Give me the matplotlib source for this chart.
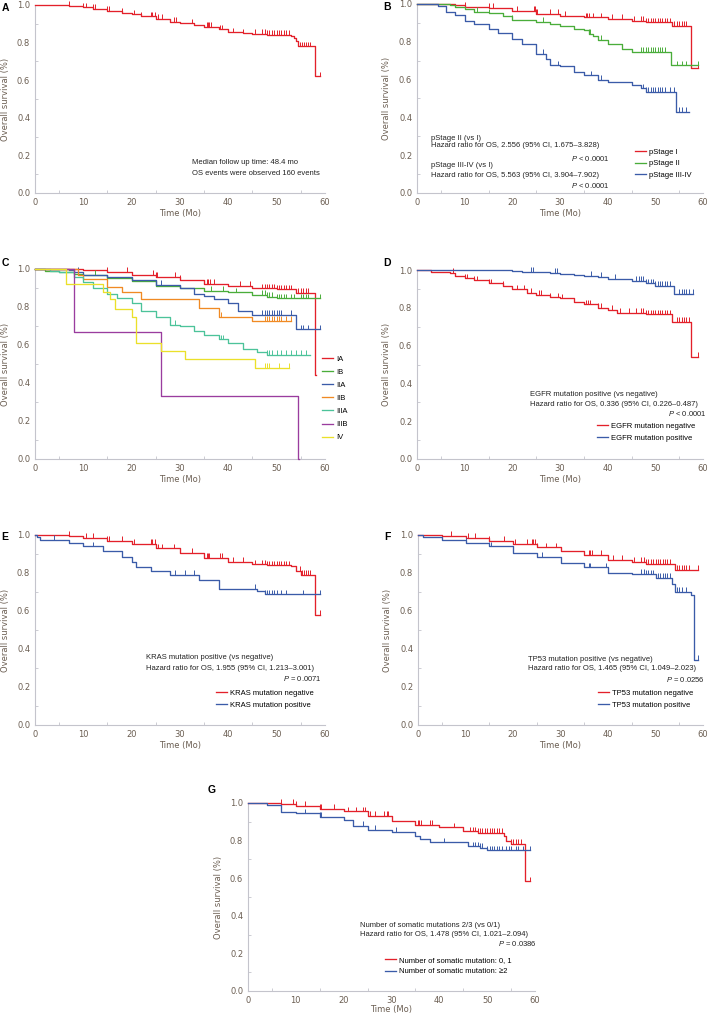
import numpy as np
import matplotlib
matplotlib.use("Agg")
import matplotlib.pyplot as plt

plt.rcParams["mathtext.fontset"] = "custom"
plt.rcParams["mathtext.rm"] = "Liberation Sans"
plt.rcParams["mathtext.it"] = "Liberation Sans:italic"

W, H = 709, 1015

RED = "#e3202a"
GREEN = "#4aad3a"
BLUE = "#3a5ba8"
ORANGE = "#f08a24"
TEAL = "#4cc39a"
PURPLE = "#9a3c9e"
YELLOW = "#ebe02a"

# ---- panel A : all patients
A_t = [0, 7, 10, 12, 15, 18, 20, 22, 25, 28, 30, 33, 35, 38, 40, 43, 45, 48, 53, 53.5, 54, 54.5, 58]
A_s = [1.0, 0.995, 0.988, 0.98, 0.97, 0.96, 0.95, 0.94, 0.926, 0.912, 0.903, 0.892, 0.885, 0.87,
       0.855, 0.85, 0.847, 0.84, 0.836, 0.825, 0.81, 0.78, 0.62]
A_end = 59
A_cens = [7, 10, 10.5, 12, 12.4, 15, 15.3, 18, 20.5, 22, 24, 24.3, 24.8, 25.5, 26.2, 28.8, 29.2,
          32.5, 35.5, 35.8, 36.1, 36.4, 38.3, 38.6, 41, 43, 45.5, 47, 47.5, 48, 48.5, 49, 49.5,
          50, 50.5, 51, 51.5, 52, 52.5, 54.8, 55.2, 55.6, 56, 56.5, 57, 59]

# ---- panel B : pathological stage
B1_t = [0, 8, 10, 15, 20, 25, 30, 35, 40, 45, 48, 53.5, 57.5]
B1_s = [1.0, 0.995, 0.986, 0.978, 0.965, 0.947, 0.939, 0.93, 0.92, 0.912, 0.903, 0.886, 0.66]
B1_end = 59
B1_cens = [10, 15, 16, 21, 24.5, 24.7, 25, 25.2, 28, 29.5, 31, 35.5, 35.7, 36, 37, 38.5, 41, 43,
           45.5, 47, 47.5, 48, 48.5, 49, 49.5, 50, 50.5, 51, 51.5, 52, 52.5, 53, 54, 54.5, 55,
           55.5, 56, 56.5, 59]
B2_t = [0, 7, 8, 10, 12, 15, 18, 20, 25, 28, 30, 33, 35, 36, 37, 38, 40, 43, 45, 53.2]
B2_s = [1.0, 0.995, 0.985, 0.975, 0.96, 0.95, 0.935, 0.916, 0.905, 0.895, 0.881, 0.87, 0.86,
        0.842, 0.83, 0.812, 0.789, 0.763, 0.745, 0.675]
B2_end = 59
B2_cens = [12.5, 15, 20, 26.5, 36, 36.3, 38.5, 47, 47.5, 48, 48.5, 49, 49.5, 50, 50.5, 51, 51.5,
           52, 54.5, 55.5, 56.5, 59]
B3_t = [0, 4.5, 6, 8, 10, 12, 15, 17, 20, 22, 25, 27, 28, 30, 33, 35, 38, 40, 45, 47, 48, 54.3]
B3_s = [1.0, 0.99, 0.96, 0.94, 0.912, 0.895, 0.868, 0.845, 0.816, 0.79, 0.737, 0.71, 0.675, 0.67,
        0.64, 0.623, 0.6, 0.588, 0.57, 0.553, 0.535, 0.43]
B3_end = 57
B3_cens = [15, 26.5, 29.5, 36.5, 38.5, 47.5, 48, 48.5, 49, 49.5, 50, 50.5, 51, 51.5, 52, 53, 54,
           55, 55.5, 56.5]

# ---- panel C : detailed stage
C_labels = ["IA", "IB", "IIA", "IIB", "IIIA", "IIIB", "IV"]
IA_t = [0, 10, 15, 20, 25, 30, 35, 40, 45, 50, 54, 58]
IA_s = [1.0, 0.995, 0.986, 0.968, 0.96, 0.942, 0.92, 0.91, 0.898, 0.893, 0.875, 0.44]
IA_cens = [15, 19, 24.5, 25, 25.3, 29, 30, 35.5, 35.8, 36.2, 37, 42.5, 44.5, 47, 47.5, 48, 48.5,
           49, 49.5, 50, 50.5, 51, 51.5, 52, 52.5, 53, 54.5, 55, 55.5, 56, 56.5]
IB_t = [0, 2, 5, 8, 10, 15, 20, 25, 30, 35, 40, 45, 48, 50]
IB_s = [1.0, 0.99, 0.985, 0.975, 0.97, 0.955, 0.935, 0.91, 0.9, 0.885, 0.877, 0.865, 0.855, 0.846]
IB_cens = [8, 12.5, 36.5, 39, 41.5, 47, 47.5, 48, 48.5, 49, 50, 50.5, 51, 51.5, 52, 53, 53.5, 55,
           55.5, 56, 56.5, 59]
IIA_t = [0, 7, 8, 10, 15, 20, 25, 30, 33, 35, 37, 40, 42, 45, 54]
IIA_s = [1.0, 0.995, 0.985, 0.97, 0.96, 0.94, 0.915, 0.9, 0.87, 0.86, 0.84, 0.819, 0.78, 0.758, 0.682]
IIA_cens = [9, 26, 47, 47.5, 48, 48.5, 49, 49.5, 50, 50.5, 51, 53, 55, 55.5, 56.5, 59]
IIB_t = [0, 9, 10, 15, 18, 22, 34, 38, 45]
IIB_s = [1.0, 0.97, 0.95, 0.907, 0.88, 0.84, 0.793, 0.749, 0.726]
IIB_cens = [38.5, 47.5, 48, 48.5, 49, 49.5, 50, 50.5, 51, 52, 53]
IIIA_t = [0, 3, 5, 8, 10, 12, 15, 17, 20, 22, 25, 28, 30, 33, 35, 38, 40, 43, 46, 48]
IIIA_s = [1.0, 0.99, 0.985, 0.96, 0.93, 0.9, 0.87, 0.845, 0.82, 0.78, 0.749, 0.705, 0.70, 0.675,
          0.653, 0.63, 0.612, 0.58, 0.565, 0.547]
IIIA_cens = [29, 38.5, 39, 48, 48.5, 49, 50, 51, 52, 53, 54, 55, 56]
IIIB_t = [0, 8, 26, 54.5]
IIIB_s = [1.0, 0.667, 0.333, 0.0]
IIIB_cens = []
IV_t = [0, 6.5, 14, 15.5, 16.5, 20, 21, 26, 31, 45.5]
IV_s = [1.0, 0.92, 0.88, 0.84, 0.787, 0.746, 0.612, 0.57, 0.526, 0.48]
IV_cens = [47.5, 48, 48.5, 50.5, 52.5]
C_ends = [58.1, 59, 59, 53, 57, 54.6, 52.5]

# ---- panel D : EGFR
Dneg_t = [0, 3, 7, 8, 10, 12, 15, 18, 20, 23, 25, 28, 30, 33, 35, 38, 40, 42, 48, 53.5, 57.5]
Dneg_s = [1.0, 0.99, 0.985, 0.97, 0.956, 0.945, 0.93, 0.915, 0.898, 0.88, 0.868, 0.855, 0.85,
          0.83, 0.818, 0.8, 0.788, 0.775, 0.766, 0.727, 0.541]
Dneg_cens = [7.5, 10, 10.5, 12, 12.5, 15, 15.5, 18, 21, 22.5, 24, 25.5, 26, 28, 29.5, 30.5, 35.5,
             35.8, 36.2, 38, 38.5, 41, 42.5, 44.5, 46, 47, 47.5, 48, 48.5, 49, 49.5, 50, 50.5,
             51, 51.5, 52, 52.5, 53, 54.5, 55, 55.5, 56, 56.5, 57, 59]
Dpos_t = [0, 15, 20, 22, 28, 30, 33, 35, 38, 40, 43, 45, 48, 50, 54]
Dpos_s = [1.0, 0.998, 0.995, 0.99, 0.985, 0.98, 0.975, 0.97, 0.962, 0.955, 0.95, 0.944, 0.93,
          0.915, 0.875]
Dpos_cens = [24, 24.3, 29, 29.3, 36.5, 38.7, 41.5, 46, 46.5, 47, 47.5, 48, 48.5, 49, 49.5, 50,
             50.5, 51, 51.5, 52, 52.5, 53, 55, 55.5, 56, 56.5, 57, 58]

# ---- panel E : KRAS
Eneg_t = [0, 7, 10, 15, 20, 25, 30, 35, 40, 45, 48, 53, 54, 55, 58]
Eneg_s = [1.0, 0.995, 0.985, 0.97, 0.955, 0.93, 0.905, 0.88, 0.86, 0.845, 0.84, 0.835, 0.81,
          0.79, 0.58]
Eneg_cens = [7, 10.5, 12, 15, 15.3, 18, 20.5, 24, 24.3, 24.8, 25.5, 26.2, 28.8, 32.5, 35.5, 35.8,
             36.1, 38.3, 38.6, 41, 43, 45.5, 47, 47.5, 48, 48.5, 49, 49.5, 50, 50.5, 51, 51.5,
             52, 52.5, 54.8, 55.2, 55.6, 56, 56.5, 57, 59]
Epos_t = [0, 0.5, 1, 7, 10, 14, 18, 20, 21, 24, 28, 34, 38, 46, 47.5]
Epos_s = [1.0, 0.99, 0.975, 0.96, 0.94, 0.915, 0.885, 0.86, 0.833, 0.81, 0.79, 0.763, 0.716,
          0.705, 0.687]
Epos_cens = [4, 12, 29, 31, 33, 45.5, 47.5, 48, 48.5, 49, 49.5, 50, 51, 52, 55.5, 59]

# ---- panel F : TP53
Fneg_t = [0, 5, 10, 15, 20, 25, 30, 35, 40, 45, 48, 54]
Fneg_s = [1.0, 0.995, 0.985, 0.97, 0.955, 0.935, 0.915, 0.895, 0.87, 0.86, 0.85, 0.816]
Fneg_cens = [7, 10.5, 12, 15, 18, 20.5, 23, 24, 24.3, 24.6, 25, 27, 29, 36, 36.3, 36.6, 38.5,
             41, 43, 45.5, 47, 47.5, 48, 48.5, 49, 49.5, 50, 50.5, 51, 51.5, 52, 52.5, 53,
             54.5, 55, 55.5, 56, 56.5, 57, 59]
Fpos_t = [0, 1, 5, 10, 15, 20, 25, 30, 35, 40, 45, 48, 50, 53.5, 54, 57.5, 58]
Fpos_s = [1.0, 0.99, 0.975, 0.96, 0.94, 0.907, 0.885, 0.855, 0.83, 0.8, 0.795, 0.793, 0.775,
          0.74, 0.702, 0.685, 0.342]
Fpos_cens = [10, 15, 15.3, 26, 36, 36.3, 39.5, 47, 47.5, 48, 48.5, 49, 49.5, 50.5, 51, 51.5, 52,
             52.5, 53, 54.5, 55, 55.5, 56.5, 59]

# ---- panel G : number of somatic mutations
Glow_t = [0, 7, 10, 15, 20, 25, 30, 35, 40, 45, 48, 53.5, 54, 55, 58]
Glow_s = [1.0, 0.995, 0.985, 0.97, 0.955, 0.93, 0.904, 0.885, 0.87, 0.85, 0.84, 0.825, 0.8,
          0.782, 0.583]
Glow_cens = [7, 9.5, 10, 12, 15, 15.3, 18, 21, 22.5, 24, 24.5, 25, 25.5, 26.5, 28.5, 29, 29.3,
             35.5, 35.8, 36.2, 38, 38.4, 43, 46.5, 47, 47.5, 48, 48.5, 49, 49.5, 50, 50.5, 51,
             51.5, 52, 52.5, 53, 55, 55.5, 56, 56.5, 57, 59]
Ghigh_t = [0, 4, 7, 10, 15, 20, 22, 25, 30, 35, 36, 38, 46, 48.5, 50]
Ghigh_s = [1.0, 0.99, 0.953, 0.945, 0.925, 0.91, 0.88, 0.857, 0.845, 0.825, 0.81, 0.79, 0.77,
           0.76, 0.748]
Ghigh_cens = [12, 15, 15.3, 24, 26.5, 31, 41, 47, 47.5, 48, 48.5, 49, 50, 50.5, 51, 51.5, 52,
              52.5, 53, 54, 54.5, 55, 56, 56.5, 57.5, 59]

LABEL_C = "#6b5e52"
SPINE_C = "#c4c4cc"
TXT_FONT = ["Liberation Sans", "DejaVu Sans"]


def px_axes(fig, x0, x1, ytop, ybot):
    return fig.add_axes([x0 / W, 1 - ybot / H, (x1 - x0) / W, (ybot - ytop) / H])


def style_axes(ax, ylab_x=-0.086, xlab_y=-0.085):
    ax.set_xlim(0, 60)
    ax.set_ylim(0, 1.0)
    for s in ("top", "right"):
        ax.spines[s].set_visible(False)
    for s in ("left", "bottom"):
        ax.spines[s].set_color(SPINE_C)
        ax.spines[s].set_linewidth(0.8)
    ax.set_xticks(np.arange(0, 61, 10))
    ax.set_xticks(np.arange(5, 60, 10), minor=True)
    ax.set_yticks(np.arange(0, 1.01, 0.2))
    ax.set_yticks(np.arange(0.1, 1.0, 0.2), minor=True)
    ax.set_yticklabels(["%.1f" % v for v in np.arange(0, 1.01, 0.2)])
    ax.tick_params(which="both", direction="in", color=SPINE_C, labelsize=6,
                   labelcolor=LABEL_C, pad=3.5)
    ax.tick_params(which="major", length=0)
    ax.tick_params(which="minor", length=2)
    ax.set_xlabel("Time (Mo)", fontsize=6, color=LABEL_C)
    ax.set_ylabel("Overall survival (%)", fontsize=6, color=LABEL_C)
    ax.xaxis.set_label_coords(0.5, xlab_y)
    ax.yaxis.set_label_coords(ylab_x, 0.5)


def km(ax, t, s, end, cens, color, label=None):
    tt = list(t) + [end]
    ss = list(s) + [s[-1]]
    ax.step(tt, ss, where="post", color=color, lw=0.95, label=label, clip_on=False, zorder=3)
    if cens:
        c = np.asarray(cens, dtype=float)
        idx = np.searchsorted(np.asarray(t, dtype=float), c, side="right") - 1
        y = np.asarray(s)[idx]
        ax.vlines(c, y, y + 0.025, color=color, lw=0.7, clip_on=False, zorder=3)


def legend(ax, x, y, spacing=0.55):
    ax.legend(loc="upper left", bbox_to_anchor=(x, y), frameon=False,
              handlelength=1.4, handletextpad=0.4, labelspacing=spacing, borderpad=0,
              borderaxespad=0, prop={"family": TXT_FONT, "size": 5.5})


def note(ax, x, y, s, ha="left"):
    ax.text(x, y, s, transform=ax.transAxes, ha=ha, va="center", fontsize=5.5,
            family=TXT_FONT, color="#222222")


fig = plt.figure(figsize=(W / 100, H / 100), dpi=100)

# A
ax = px_axes(fig, 35, 325, 5, 193)
style_axes(ax)
km(ax, A_t, A_s, A_end, A_cens, RED)
note(ax, 0.541, 0.16, "Median follow up time: 48.4 mo")
note(ax, 0.541, 0.106, "OS events were observed 160 events")

# B
ax = px_axes(fig, 417, 703, 4, 193)
style_axes(ax, ylab_x=-0.091)
km(ax, B1_t, B1_s, B1_end, B1_cens, RED, "pStage I")
km(ax, B2_t, B2_s, B2_end, B2_cens, GREEN, "pStage II")
km(ax, B3_t, B3_s, B3_end, B3_cens, BLUE, "pStage III-IV")
legend(ax, 0.762, 0.235)
note(ax, 0.049, 0.29, "pStage II (vs I)")
note(ax, 0.049, 0.249, "Hazard ratio for OS, 2.556 (95% CI, 1.675\u20133.828)")
note(ax, 0.675, 0.185, "$\\it{P}$ < 0.0001", ha="right")
note(ax, 0.049, 0.143, "pStage III-IV (vs I)")
note(ax, 0.049, 0.093, "Hazard ratio for OS, 5.563 (95% CI, 3.904\u20137.902)")
note(ax, 0.675, 0.04, "$\\it{P}$ < 0.0001", ha="right")

# C
ax = px_axes(fig, 35, 325, 269, 459)
style_axes(ax)
C_series = [(IA_t, IA_s, IA_cens), (IB_t, IB_s, IB_cens), (IIA_t, IIA_s, IIA_cens),
            (IIB_t, IIB_s, IIB_cens), (IIIA_t, IIIA_s, IIIA_cens), (IIIB_t, IIIB_s, IIIB_cens),
            (IV_t, IV_s, IV_cens)]
C_colors = [RED, GREEN, BLUE, ORANGE, TEAL, PURPLE, YELLOW]
for (t, s, c), end, col, lab in zip(C_series, C_ends, C_colors, C_labels):
    km(ax, t, s, end, c, col, lab)
legend(ax, 0.99, 0.545, spacing=0.75)

# D
ax = px_axes(fig, 417, 703, 270, 459)
style_axes(ax, ylab_x=-0.091)
km(ax, Dneg_t, Dneg_s, 59, Dneg_cens, RED, "EGFR mutation negative")
km(ax, Dpos_t, Dpos_s, 58, Dpos_cens, BLUE, "EGFR mutation positive")
legend(ax, 0.629, 0.192)
note(ax, 0.395, 0.339, "EGFR mutation positive (vs negative)")
note(ax, 0.395, 0.291, "Hazard ratio for OS, 0.336 (95% CI, 0.226\u20130.487)")
note(ax, 1.014, 0.243, "$\\it{P}$ < 0.0001", ha="right")

# E
ax = px_axes(fig, 35, 325, 535, 725)
style_axes(ax)
km(ax, Eneg_t, Eneg_s, 59, Eneg_cens, RED, "KRAS mutation negative")
km(ax, Epos_t, Epos_s, 59, Epos_cens, BLUE, "KRAS mutation positive")
legend(ax, 0.624, 0.186)
note(ax, 0.383, 0.353, "KRAS mutation positive (vs negative)")
note(ax, 0.383, 0.30, "Hazard ratio for OS, 1.955 (95% CI, 1.213\u20133.001)")
note(ax, 0.99, 0.247, "$\\it{P}$ = 0.0071", ha="right")

# F
ax = px_axes(fig, 418, 703, 535, 725)
style_axes(ax, ylab_x=-0.091)
km(ax, Fneg_t, Fneg_s, 59, Fneg_cens, RED, "TP53 mutation negative")
km(ax, Fpos_t, Fpos_s, 59, Fpos_cens, BLUE, "TP53 mutation positive")
legend(ax, 0.632, 0.186)
note(ax, 0.386, 0.347, "TP53 mutation positive (vs negative)")
note(ax, 0.386, 0.295, "Hazard ratio for OS, 1.465 (95% CI, 1.049\u20132.023)")
note(ax, 1.007, 0.242, "$\\it{P}$ = 0.0256", ha="right")

# G
ax = px_axes(fig, 248, 535, 803, 991)
style_axes(ax, ylab_x=-0.087, xlab_y=-0.075)
km(ax, Glow_t, Glow_s, 59, Glow_cens, RED, "Number of somatic mutation: 0, 1")
km(ax, Ghigh_t, Ghigh_s, 59, Ghigh_cens, BLUE, "Number of somatic mutation: \u22652")
legend(ax, 0.477, 0.183)
note(ax, 0.39, 0.346, "Number of somatic mutations 2/3 (vs 0/1)")
note(ax, 0.39, 0.298, "Hazard ratio for OS, 1.478 (95% CI, 1.021\u20132.094)")
note(ax, 1.007, 0.25, "$\\it{P}$ = 0.0386", ha="right")

# panel letters
for lab, x, y in [("A", 5, 8), ("B", 387, 7), ("C", 5, 263), ("D", 387, 263),
                  ("E", 5, 537), ("F", 387, 537), ("G", 212, 790)]:
    fig.text(x / W, 1 - y / H, lab, fontsize=7.5, fontweight="bold", ha="center",
             va="center", family=TXT_FONT)

fig.savefig("out.png", dpi=100)
